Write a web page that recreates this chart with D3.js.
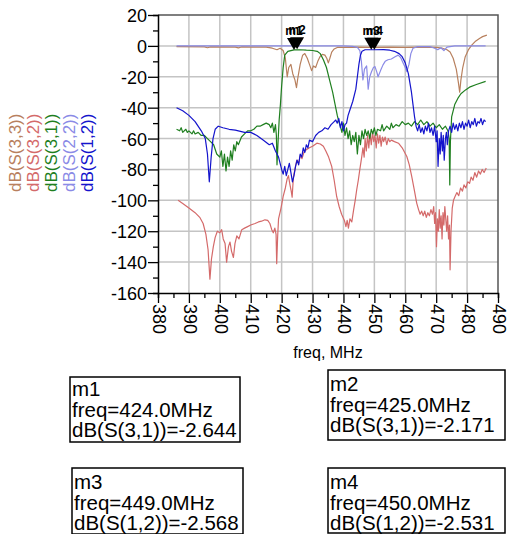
<!DOCTYPE html>
<html lang="en">
<head>
    <meta charset="UTF-8">
    <title>S-parameters</title>
    <script src="https://d3js.org/d3.v7.min.js"></script>
    <style>
        body { margin: 0; background: #fff; }
        text { font-family: "Liberation Sans", Arial, sans-serif; }
    </style>
</head>
<body>
    <div id="chart"></div>
    <script>
        // Traces: [freq MHz, dB]
        const s33 = [[386,-0.5],[395,-0.6],[396,-1.2],[397,-0.6],[405,-0.8],[406,-1.3],[407,-0.7],[415,-0.8],[417,-1.5],[418.5,-2.5],[419.5,-1.5],[420.5,-3],[421.2,-8],[421.8,-20],[422.3,-14],[423,-12],[423.6,-18],[424.3,-22],[424.8,-27],[425.3,-20],[426,-12],[426.8,-6],[427.5,-5],[428.3,-8],[429,-12],[429.7,-16],[430.3,-13],[431,-14],[431.7,-10],[432.4,-7],[433.2,-5.5],[434,-6],[434.6,-8],[435.1,-11],[435.6,-8],[436.2,-4],[437,-2],[438,-1],[445,-0.8],[450,-1],[455,-0.8],[460,-1],[465,-0.8],[470,-1],[472,-1.5],[473.5,-2.5],[474.5,-4],[475.5,-8],[476.5,-15],[477.2,-24],[477.6,-30],[478,-22],[478.6,-14],[479.4,-7],[480.4,-2.6],[481.5,0.5],[482.6,2.8],[484,4.8],[485,6],[486.4,7]];

        const s32 = [[386.5,-100],[388,-102],[390,-105],[392,-108],[393.5,-111],[394.6,-115],[395.5,-122],[396.2,-132],[396.8,-151],[397.3,-138],[397.9,-130],[398.5,-124],[399.2,-120],[400,-121],[400.6,-119],[401.1,-125],[401.7,-128],[402.2,-140],[402.8,-130],[403.3,-127],[403.8,-133],[404.4,-137],[404.9,-128],[405.5,-123],[406.2,-125],[407.1,-119],[408,-118],[409,-117],[410,-116],[411.4,-115],[412.5,-114],[413.5,-113.5],[414.6,-112.6],[415.5,-113],[416.2,-115],[416.8,-119],[417.3,-121],[417.8,-118],[418.2,-122],[418.4,-141],[418.7,-124],[419,-112],[419.8,-105],[420.5,-97.5],[421.2,-92],[421.8,-86],[422.2,-84],[422.7,-90],[423.1,-94],[423.4,-98],[423.8,-85],[424.3,-80],[424.9,-74],[425.5,-76],[426,-71],[426.6,-73],[427.2,-69],[428.1,-67],[429,-66],[430,-65],[431.4,-63],[432.5,-63.5],[433.5,-65],[434.3,-68],[435.2,-72],[436.2,-78],[437,-87],[437.8,-97.5],[438.6,-104],[439.4,-109],[440.3,-113],[440.8,-117],[441.2,-113],[441.6,-118],[442.1,-112],[442.7,-114],[443.3,-106],[443.8,-100],[444.3,-93],[444.8,-87],[445.3,-80],[445.9,-72],[446.3,-66],[446.7,-72],[447,-60],[447.4,-68],[447.8,-58],[448.2,-66],[448.6,-57],[449,-64],[449.4,-56],[449.8,-62],[450.2,-58],[450.6,-66],[451,-57],[451.4,-63],[451.8,-58],[452.2,-65],[452.6,-59],[453,-62],[453.5,-59],[454,-64],[454.5,-60],[455,-62],[455.5,-61],[456.5,-62],[457.8,-63],[459,-66],[460.5,-71.6],[461.3,-77],[462.1,-84.6],[462.9,-93],[463.7,-101.8],[464.3,-106],[464.8,-109],[465.3,-107],[465.8,-110],[466.3,-107],[466.8,-111],[467.3,-108],[467.8,-110],[468.3,-106],[468.8,-109],[469.2,-104],[469.5,-115],[469.8,-108],[470.1,-130],[470.4,-112],[470.7,-120],[471,-106],[471.3,-118],[471.6,-110],[471.9,-125],[472.2,-108],[472.5,-116],[472.8,-104],[473.1,-112],[473.4,-120],[473.7,-110],[474,-125],[474.3,-116],[474.5,-145],[474.8,-120],[475.2,-105],[475.6,-100],[476.1,-97.5],[476.7,-95],[477.3,-97],[477.9,-92],[478.5,-94],[479,-90],[479.6,-92],[480.2,-88],[480.8,-89],[481.3,-85],[481.9,-87],[482.5,-82],[483.1,-85],[483.7,-81],[484.3,-83],[484.9,-80],[485.5,-82],[486.2,-79]];

        const s31 = [[386,-54],[387,-55],[387.5,-53],[388,-56],[389,-54],[389.5,-56],[390,-55],[391,-57],[391.5,-55],[392,-57],[393,-56],[394,-58],[395,-58],[396,-60],[397,-62],[398,-64],[399,-70],[400,-72],[400.5,-68],[401,-78],[401.5,-70],[402,-81],[402.5,-72],[403,-78],[403.5,-68],[404,-74],[404.5,-64],[405,-68],[405.5,-62],[406,-64],[407,-59],[408,-57],[409,-55],[410,-55],[411,-54],[412,-52],[413,-52],[414,-51],[415,-50],[416,-51],[416.5,-53],[417,-50],[417.5,-56],[418,-51],[418.3,-58],[418.5,-77],[418.8,-64],[419.2,-48],[419.6,-38],[420,-26],[420.5,-14],[421,-6],[422,-3.5],[424,-2.6],[426,-2.5],[428,-2.8],[430,-3],[431.5,-3.5],[432.5,-5],[433.5,-9],[434.5,-14],[435.5,-22],[436.5,-30],[437.3,-38],[438,-45],[438.5,-49],[439,-52],[439.5,-56],[440,-50],[440.5,-58],[441,-53],[441.5,-60],[442,-55],[442.5,-64],[443,-58],[443.5,-62],[444,-56],[444.5,-70],[445,-58],[445.5,-64],[446,-55],[446.5,-60],[447,-54],[447.5,-58],[448,-55],[448.5,-60],[449,-54],[449.5,-57],[450,-53],[450.5,-58],[451,-54],[452,-55],[452.5,-51],[453,-55],[454,-52],[455,-54],[455.5,-50],[456,-53],[457,-51],[458,-52],[459,-49],[460,-51],[461,-50],[462,-52],[463,-49],[464,-51],[465,-48],[466,-51],[467,-49],[468,-52],[469,-50],[470,-53],[471,-51],[472,-54],[473,-52],[473.8,-55],[474.2,-60],[474.4,-90],[474.6,-62],[475,-46],[476,-38],[477,-34],[478,-31],[479.5,-28.5],[481,-26.5],[483,-25],[486,-23]];

        const s22 = [[386,0],[400,0],[420,0],[440,0],[443,-0.3],[444.5,-1],[445.3,-3],[445.8,-10],[446.3,-22],[446.8,-15],[447.5,-13],[448,-28],[448.5,-20],[449.1,-16.6],[449.7,-14],[450.2,-13.4],[450.8,-17],[451.2,-20],[452,-16],[452.8,-12.3],[453.5,-10],[454.4,-9],[455.5,-8.5],[456.7,-7],[457.7,-6],[458.5,-7.5],[459.3,-11],[460,-14],[460.5,-16.6],[461.2,-12],[461.8,-5],[462.5,-1.5],[464,-0.5],[468,-0.5],[469.5,-1.5],[470.5,-2.5],[471.5,-1.2],[472.5,-3],[473.5,-0.8],[476,0],[486,0]];

        const s12 = [[386,-40],[388,-42],[390,-45],[392,-49],[394,-55],[395.3,-60],[396,-70],[396.6,-88],[397.2,-72],[397.8,-60],[398.5,-54],[399.5,-52],[401,-53],[403,-54],[405,-54.5],[406,-55],[408,-56],[410,-56],[412,-58],[414,-61],[416,-64],[417,-63],[418,-68],[419,-72],[420,-80],[420.5,-83],[421,-78],[421.5,-84],[422,-80],[422.5,-76],[423,-82],[423.5,-88],[424,-84],[424.5,-78],[425,-74],[425.5,-77],[426,-70],[426.5,-72],[427,-66],[427.5,-69],[428,-64],[428.5,-66],[429,-61],[430,-62],[431,-58],[432,-56],[433,-55],[434,-53],[435,-54],[436,-51],[437,-49],[437.5,-48],[438,-50],[438.5,-47],[439,-53],[439.5,-49],[440,-55],[440.5,-51],[441,-50],[441.5,-45],[442,-42],[443,-36],[444,-28],[444.5,-20],[445,-12],[445.5,-6],[446,-3.5],[447,-2.5],[450,-2.5],[453,-2.4],[455,-2.8],[456.5,-3.5],[458,-5],[459,-7],[460,-11],[461,-18],[462,-30],[462.5,-38],[463,-46],[463.5,-52],[464,-55],[464.5,-51],[465,-56],[465.5,-53],[466,-57],[466.5,-52],[467,-55],[467.5,-50],[468,-56],[468.5,-53],[469,-58],[469.5,-52],[470,-62],[470.3,-55],[470.6,-78],[471,-60],[471.3,-70],[471.6,-56],[472,-68],[472.3,-58],[472.6,-74],[473,-60],[473.3,-56],[473.6,-64],[474,-55],[474.5,-52],[475,-56],[475.5,-50],[476,-54],[476.5,-51],[477,-55],[477.5,-50],[478,-53],[478.5,-49],[479,-54],[479.5,-50],[480,-52],[480.5,-48],[481,-53],[481.5,-49],[482,-51],[482.5,-47],[483,-52],[483.5,-49],[484,-50],[484.5,-47],[485,-51],[485.5,-48],[486,-49]];

        const seriesNames = ["dB(S(3,3))", "dB(S(3,2))", "dB(S(3,1))", "dB(S(2,2))", "dB(S(1,2))"];
        const seriesColors = ["#b8805e", "#d46a6a", "#1f7f1f", "#8a8ae6", "#1414cc"];
        const seriesData = [s33, s32, s31, s22, s12];

        const xTicks = [380, 390, 400, 410, 420, 430, 440, 450, 460, 470, 480, 490];
        const yTicks = [20, 0, -20, -40, -60, -80, -100, -120, -140, -160];

        const markerNames = ["m1", "m2", "m3", "m4"];
        const markerFreq = [424.0, 425.0, 449.0, 450.0];
        const markerVal = [-2.644, -2.171, -2.568, -2.531];
        const markerTrace = ["dB(S(3,1))", "dB(S(3,1))", "dB(S(1,2))", "dB(S(1,2))"];

        const W = 509, H = 534;
        const svg = d3.select("#chart").append("svg")
            .attr("width", W).attr("height", H);

        const x = d3.scaleLinear().domain([380, 490]).range([158, 498]);
        const y = d3.scaleLinear().domain([-160, 20]).range([293, 15]);

        // grid
        svg.append("g").selectAll("line")
            .data(xTicks.slice(1, -1)).enter().append("line")
            .attr("x1", d => x(d)).attr("x2", d => x(d))
            .attr("y1", y(20)).attr("y2", y(-160))
            .attr("stroke", "#c4c4c4").attr("stroke-width", 1.5);
        svg.append("g").selectAll("line")
            .data(yTicks.slice(1, -1)).enter().append("line")
            .attr("x1", x(380)).attr("x2", x(490))
            .attr("y1", d => y(d)).attr("y2", d => y(d))
            .attr("stroke", "#c4c4c4").attr("stroke-width", 1.5);

        // frame top / right
        svg.append("path")
            .attr("d", `M${x(380)},${y(20)}H${x(490)}V${y(-160)}`)
            .attr("fill", "none").attr("stroke", "#555").attr("stroke-width", 1.5);

        // axes
        const yAxis = d3.axisLeft(y).tickValues(d3.range(-160, 21, 10))
            .tickSize(5).tickFormat("");
        const gy = svg.append("g").attr("transform", `translate(${x(380)},0)`).call(yAxis);
        gy.selectAll(".tick line").filter(d => d % 20 === 0).attr("x2", -10);
        gy.selectAll(".tick").filter(d => d % 20 === 0).append("text")
            .attr("x", -11).attr("dy", "0.36em")
            .attr("text-anchor", "end").attr("fill", "#000")
            .style("font-size", "18px")
            .text(d => d);

        const xAxis = d3.axisBottom(x).tickValues(d3.range(380, 491, 5))
            .tickSize(5).tickFormat("");
        const gx = svg.append("g").attr("transform", `translate(0,${y(-160)})`).call(xAxis);
        gx.selectAll(".tick line").filter(d => d % 10 === 0).attr("y2", 10);
        gx.selectAll(".tick").filter(d => d % 10 === 0).append("text")
            .attr("transform", "translate(1,11) rotate(90)")
            .attr("dy", "0.36em")
            .attr("text-anchor", "start").attr("fill", "#000")
            .style("font-size", "18px")
            .text(d => d);
        svg.selectAll(".domain").attr("stroke", "#000").attr("stroke-width", 1.5);
        svg.selectAll(".tick line").attr("stroke", "#000").attr("stroke-width", 1.3);

        svg.append("text")
            .attr("x", 328).attr("y", 358)
            .attr("text-anchor", "middle")
            .style("font-size", "16px")
            .text("freq, MHz");

        // traces
        const line = d3.line().x(d => x(d[0])).y(d => y(d[1]));
        svg.append("g").selectAll("path")
            .data(seriesData).enter().append("path")
            .attr("d", line)
            .attr("fill", "none")
            .attr("stroke", (d, i) => seriesColors[i])
            .attr("stroke-width", 1.2)
            .attr("stroke-linejoin", "round");

        // rotated legend
        svg.append("g").selectAll("text")
            .data(seriesNames).enter().append("text")
            .attr("transform", (d, i) => `translate(${15 + i * 18},192) rotate(-90)`)
            .attr("dy", "0.36em")
            .attr("fill", (d, i) => seriesColors[i])
            .style("font-size", "17px")
            .text(d => d);

        // markers
        const mk = svg.append("g").selectAll("g")
            .data(markerNames).enter().append("g")
            .attr("transform", (d, i) => `translate(${x(markerFreq[i])},${y(markerVal[i])})`);
        mk.append("path")
            .attr("d", "M0,0L-7,-12L7,-12Z")
            .attr("fill", "#000");
        mk.append("text")
            .attr("y", -15)
            .attr("text-anchor", "middle")
            .style("font-size", "12px")
            .style("font-weight", "bold")
            .text(d => d);

        // marker readout boxes
        const boxPos = [[70, 377, 170, 65], [328, 370, 177, 70], [72, 468, 171, 66], [328, 468, 177, 65]];
        const boxBase = [[396, 417, 437], [391, 411.5, 432], [488.5, 509.5, 530], [488.5, 509.5, 530]];
        const boxes = svg.append("g").selectAll("g")
            .data(markerNames).enter().append("g");
        boxes.append("rect")
            .attr("x", (d, i) => boxPos[i][0]).attr("y", (d, i) => boxPos[i][1])
            .attr("width", (d, i) => boxPos[i][2]).attr("height", (d, i) => boxPos[i][3])
            .attr("fill", "#fff").attr("stroke", "#000").attr("stroke-width", 1.5);
        boxes.each(function(d, i) {
            const lines = [d, `freq=${markerFreq[i].toFixed(1)}MHz`, `${markerTrace[i]}=${markerVal[i].toFixed(3)}`];
            d3.select(this).selectAll("text.r")
                .data(lines).enter().append("text")
                .attr("class", "r")
                .attr("x", boxPos[i][0] + 2)
                .attr("y", (t, j) => boxBase[i][j])
                .style("font-size", "20.5px")
                .text(t => t);
        });
    </script>
</body>
</html>
